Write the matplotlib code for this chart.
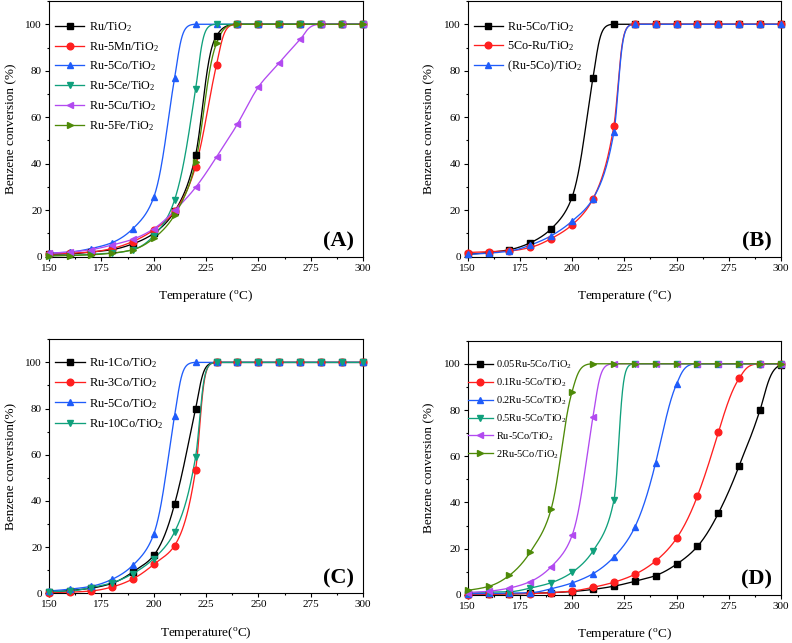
import numpy as np
import matplotlib
matplotlib.use('Agg')
import matplotlib.pyplot as plt
from matplotlib.ticker import MultipleLocator

plt.rcParams['font.family'] = ['Liberation Serif', 'DejaVu Serif']
plt.rcParams['mathtext.fontset'] = 'custom'
plt.rcParams['mathtext.rm'] = 'Liberation Serif'
plt.rcParams['mathtext.it'] = 'Liberation Serif:italic'
plt.rcParams['mathtext.bf'] = 'Liberation Serif:bold'

# ---------------- data ----------------
temps = [150, 160, 170, 180, 190, 200, 210, 220, 230, 240, 250, 260, 270, 280, 290, 300]

# Panel A
a_labels = ['Ru/TiO$_2$', 'Ru-5Mn/TiO$_2$', 'Ru-5Co/TiO$_2$',
            'Ru-5Ce/TiO$_2$', 'Ru-5Cu/TiO$_2$', 'Ru-5Fe/TiO$_2$']
a_ru = [1.0, 1.2, 2.0, 3.0, 5.5, 10.0, 19.5, 43.7, 95.0, 100, 100, 100, 100, 100, 100, 100]
a_mn = [1.0, 1.5, 2.0, 3.5, 6.5, 11.5, 19.5, 38.8, 82.5, 100, 100, 100, 100, 100, 100, 100]
a_co = [1.5, 2.0, 3.5, 6.0, 12.0, 25.5, 77.0, 100, 100, 100, 100, 100, 100, 100, 100, 100]
a_ce = [0.5, 0.6, 1.0, 1.5, 3.0, 9.0, 24.5, 72.0, 100, 100, 100, 100, 100, 100, 100, 100]
a_cu = [1.5, 2.0, 3.0, 5.0, 7.5, 12.0, 19.9, 29.8, 42.9, 57.1, 73.0, 83.5, 93.5, 100, 100, 100]
a_fe = [0.3, 0.5, 0.8, 1.5, 3.0, 7.9, 18.0, 40.6, 91.8, 100, 100, 100, 100, 100, 100, 100]

# Panel B
b_labels = ['Ru-5Co/TiO$_2$', '5Co-Ru/TiO$_2$', '(Ru-5Co)/TiO$_2$']
b_ru5co = [1.0, 1.8, 3.0, 6.0, 12.0, 25.7, 77.0, 100, 100, 100, 100, 100, 100, 100, 100, 100]
b_5coru = [1.8, 2.2, 2.5, 4.0, 7.8, 13.7, 24.9, 56.3, 100, 100, 100, 100, 100, 100, 100, 100]
b_coimp = [1.0, 1.5, 2.4, 5.0, 9.0, 15.3, 25.0, 53.5, 100, 100, 100, 100, 100, 100, 100, 100]

# Panel C
c_labels = ['Ru-1Co/TiO$_2$', 'Ru-3Co/TiO$_2$', 'Ru-5Co/TiO$_2$', 'Ru-10Co/TiO$_2$']
c_1co = [0.5, 1.2, 2.2, 4.3, 9.2, 16.4, 38.7, 79.9, 100, 100, 100, 100, 100, 100, 100, 100]
c_3co = [0.3, 0.5, 1.0, 2.7, 6.2, 12.5, 20.7, 53.3, 100, 100, 100, 100, 100, 100, 100, 100]
c_5co = [1.0, 1.8, 3.0, 6.0, 12.1, 25.6, 77.0, 100, 100, 100, 100, 100, 100, 100, 100, 100]
c_10co = [0.7, 1.0, 2.5, 4.5, 8.5, 15.0, 26.6, 59.0, 100, 100, 100, 100, 100, 100, 100, 100]

# Panel D
d_labels = ['0.05Ru-5Co/TiO$_2$', '0.1Ru-5Co/TiO$_2$', '0.2Ru-5Co/TiO$_2$',
            '0.5Ru-5Co/TiO$_2$', 'Ru-5Co/TiO$_2$', '2Ru-5Co/TiO$_2$']
d_005 = [0.3, 0.4, 0.5, 0.7, 1.0, 1.5, 2.4, 3.8, 5.9, 8.4, 13.3, 21.0, 35.3, 56.0, 80.1, 99.5]
d_01 = [0.2, 0.3, 0.5, 0.6, 1.0, 1.7, 3.3, 5.5, 8.9, 14.7, 24.5, 42.8, 70.3, 93.7, 100, 100]
d_02 = [0.5, 0.7, 0.8, 1.0, 2.7, 5.2, 9.2, 16.4, 29.3, 57.2, 91.2, 100, 100, 100, 100, 100]
d_05 = [1.0, 1.2, 1.4, 3.0, 5.3, 9.8, 19.0, 40.9, 100, 100, 100, 100, 100, 100, 100, 100]
d_1 = [1.0, 1.6, 3.0, 5.8, 12.2, 25.8, 77.1, 100, 100, 100, 100, 100, 100, 100, 100, 100]
d_2 = [2.0, 3.7, 8.5, 18.6, 37.3, 88.0, 100, 100, 100, 100, 100, 100, 100, 100, 100, 100]

# ---------------- styles ----------------
BLACK = '#000000'
RED = '#FF1F1F'
BLUE = '#1F5CFA'
TEAL = '#10A07C'
PURPLE = '#B24AF0'
OLIVE = '#4E8A08'
MARKERS = ['s', 'o', '^', 'v', '<', '>']


def _pchip(x, y, xs):
    h = np.diff(x)
    delta = np.diff(y) / h
    d = np.zeros_like(y)
    for k in range(1, len(x) - 1):
        if delta[k - 1] * delta[k] > 0:
            w1 = 2 * h[k] + h[k - 1]
            w2 = h[k] + 2 * h[k - 1]
            d[k] = (w1 + w2) / (w1 / delta[k - 1] + w2 / delta[k])
        else:
            d[k] = 0.0
    d[0] = delta[0]
    d[-1] = delta[-1]
    idx = np.clip(np.searchsorted(x, xs) - 1, 0, len(x) - 2)
    t = (xs - x[idx]) / h[idx]
    h00 = 2 * t**3 - 3 * t**2 + 1
    h10 = t**3 - 2 * t**2 + t
    h01 = -2 * t**3 + 3 * t**2
    h11 = t**3 - t**2
    return h00 * y[idx] + h10 * h[idx] * d[idx] + h01 * y[idx + 1] + h11 * h[idx] * d[idx + 1]


def smooth_curve(x, y, n=600, lo=0.005, hi=0.995):
    """Smooth sigmoid-shaped line through the points (shape-preserving in logit space)."""
    x = np.asarray(x, float)
    p = lo + (hi - lo) * np.asarray(y, float) / 100.0
    lg = np.log(p / (1 - p))
    xs = np.linspace(x[0], x[-1], n)
    ls = _pchip(x, lg, xs)
    return xs, 100.0 * (1 / (1 + np.exp(-ls)) - lo) / (hi - lo)


def style_axes(ax, letter, xlabel, ylabel):
    ax.set_xlim(150, 300)
    ax.set_ylim(0, 110)
    ax.xaxis.set_major_locator(MultipleLocator(25))
    ax.xaxis.set_minor_locator(MultipleLocator(12.5))
    ax.yaxis.set_major_locator(MultipleLocator(20))
    ax.yaxis.set_minor_locator(MultipleLocator(10))
    ax.tick_params(which='both', direction='out', top=False, right=False,
                   labelsize=8, width=0.8, pad=2)
    ax.tick_params(which='major', length=3)
    ax.tick_params(which='minor', length=1.6)
    for s in ax.spines.values():
        s.set_linewidth(0.8)
    ax.set_xlabel(xlabel, fontsize=9.5, labelpad=11)
    ax.set_ylabel(ylabel, fontsize=9.5, labelpad=6)
    ax.text(0.972, 0.06, letter, transform=ax.transAxes, ha='right', va='center',
            fontsize=16, fontweight='bold')


def draw(ax, series, labels, colors, legend_fs, spacing, anchor):
    handles = []
    for ys, lab, col, mk in zip(series, labels, colors, MARKERS):
        xs_s, ys_s = smooth_curve(temps, ys)
        ax.plot(xs_s, ys_s, color=col, lw=0.95, zorder=2)
        ax.plot(temps, ys, linestyle='none', marker=mk, color=col,
                markersize=4.8, zorder=3, clip_on=False)
        h, = ax.plot([], [], color=col, lw=0.95, marker=mk, markersize=4.8, label=lab)
        handles.append(h)
    ax.legend(handles=handles, loc='upper left', bbox_to_anchor=anchor,
              frameon=False, fontsize=legend_fs, numpoints=1, handlelength=2.4,
              handletextpad=0.35, labelspacing=spacing, borderaxespad=0,
              borderpad=0)


fig = plt.figure(figsize=(7.92, 6.43), dpi=100)
axA = fig.add_axes([0.0619, 0.6008, 0.3965, 0.3976])
axB = fig.add_axes([0.5905, 0.6008, 0.3956, 0.3976])
axC = fig.add_axes([0.0619, 0.0773, 0.3965, 0.3950])
axD = fig.add_axes([0.5905, 0.0747, 0.3956, 0.3955])

draw(axA, [a_ru, a_mn, a_co, a_ce, a_cu, a_fe], a_labels,
     [BLACK, RED, BLUE, TEAL, PURPLE, OLIVE], 8.7, 0.49, (0.02, 0.925))
draw(axB, [b_ru5co, b_5coru, b_coimp], b_labels,
     [BLACK, RED, BLUE], 8.7, 0.44, (0.02, 0.925))
draw(axC, [c_1co, c_3co, c_5co, c_10co], c_labels,
     [BLACK, RED, BLUE, TEAL], 8.9, 0.53, (0.02, 0.934))
draw(axD, [d_005, d_01, d_02, d_05, d_1, d_2], d_labels,
     [BLACK, RED, BLUE, TEAL, PURPLE, OLIVE], 7.5, 0.52, (0.0, 0.93))

style_axes(axA, '(A)', r'Temperature ($^{\rm o}$C)', 'Benzene conversion (%)')
style_axes(axB, '(B)', r'Temperature ($^{\rm o}$C)', 'Benzene conversion (%)')
style_axes(axC, '(C)', r'Temperature($^{\rm o}$C)', 'Benzene conversion(%)')
style_axes(axD, '(D)', r'Temperature ($^{\rm o}$C)', 'Benzene conversion (%)')

fig.savefig('out.png', dpi=100)
